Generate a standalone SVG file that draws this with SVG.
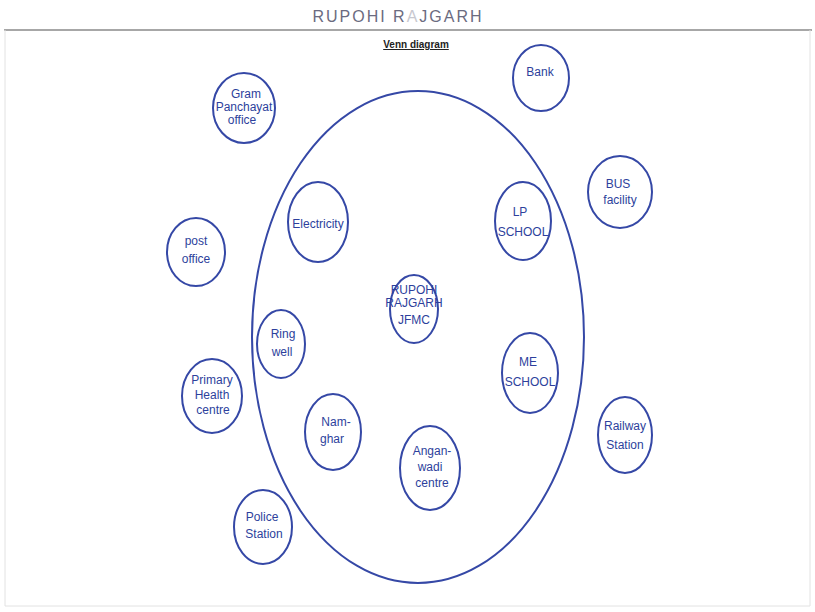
<svg xmlns="http://www.w3.org/2000/svg" width="815" height="612" viewBox="0 0 815 612">
<style>
.n{fill:none;stroke:#3548a6;stroke-width:2}
.t{font-family:"Liberation Sans",sans-serif;font-size:12px;fill:#2d3f9c;text-anchor:middle}
.big{fill:none;stroke:#3548a6;stroke-width:2}
</style>
<rect width="815" height="612" fill="#ffffff"/>
<line x1="4" y1="30" x2="812" y2="30" stroke="#8a8a8a" stroke-width="1.5"/>
<line x1="5" y1="30" x2="5" y2="606" stroke="#e2e2e2" stroke-width="1"/>
<line x1="810" y1="30" x2="810" y2="606" stroke="#e2e2e2" stroke-width="1"/>
<line x1="5" y1="606" x2="810" y2="606" stroke="#e2e2e2" stroke-width="1"/>
<text x="398" y="22" font-family="Liberation Sans,sans-serif" font-size="16" fill="#6b6b80" text-anchor="middle" letter-spacing="2">RUPOHI R<tspan fill="#c8c8d0">A</tspan>JGARH</text>
<text x="416" y="48" font-family="Liberation Sans,sans-serif" font-size="10" font-weight="bold" fill="#222" text-anchor="middle" text-decoration="underline">Venn diagram</text>
<g id="outer"><ellipse class="big" cx="418" cy="337" rx="166" ry="246"/></g>
<g id="connectors"></g>
<g id="gram-panchayat"><ellipse class="n" cx="244" cy="108" rx="31" ry="35"/><text class="t" x="244" y="98" font-size="11"><tspan x="246">Gram</tspan><tspan x="244" dy="13">Panchayat</tspan><tspan x="242" dy="13">office</tspan></text></g>
<g id="bank"><ellipse class="n" cx="541" cy="78" rx="28" ry="33"/><text class="t" x="540" y="76">Bank</text></g>
<g id="bus"><ellipse class="n" cx="620" cy="192" rx="32" ry="36"/><text class="t" x="618" y="188">BUS<tspan x="620" dy="16">facility</tspan></text></g>
<g id="post"><ellipse class="n" cx="196" cy="252" rx="29" ry="34"/><text class="t" x="196" y="245">post<tspan x="196" dy="18">office</tspan></text></g>
<g id="electricity"><ellipse class="n" cx="318" cy="222" rx="30" ry="40"/><text class="t" x="318" y="228" font-size="11">Electricity</text></g>
<g id="lp-school"><ellipse class="n" cx="523" cy="221" rx="28" ry="39"/><text class="t" x="520" y="216">LP<tspan x="523" dy="20">SCHOOL</tspan></text></g>
<g id="jfmc"><ellipse class="n" cx="414" cy="309" rx="24" ry="34"/><text class="t" x="414" y="294" font-size="9">RUPOHI</text><text class="t" x="414" y="307" font-size="9">RAJGARH</text><text class="t" x="414" y="324" font-size="10">JFMC</text></g>
<g id="ring-well"><ellipse class="n" cx="281" cy="344" rx="24" ry="34"/><text class="t" x="283" y="338">Ring<tspan x="282" dy="18">well</tspan></text></g>
<g id="phc"><ellipse class="n" cx="212" cy="396" rx="30" ry="37"/><text class="t" x="212" y="384" font-size="11">Primary<tspan x="212" dy="15">Health</tspan><tspan x="213" dy="15">centre</tspan></text></g>
<g id="me-school"><ellipse class="n" cx="530" cy="373" rx="28" ry="40"/><text class="t" x="528" y="366">ME<tspan x="530" dy="20">SCHOOL</tspan></text></g>
<g id="railway"><ellipse class="n" cx="625" cy="435" rx="27" ry="38"/><text class="t" x="625" y="430" font-size="11">Railway<tspan x="625" dy="19">Station</tspan></text></g>
<g id="namghar"><ellipse class="n" cx="333" cy="432" rx="28" ry="38"/><text class="t" x="336" y="426">Nam-<tspan x="332" dy="17">ghar</tspan></text></g>
<g id="anganwadi"><ellipse class="n" cx="430" cy="468" rx="30" ry="42"/><text class="t" x="432" y="455">Angan-<tspan x="430" dy="16">wadi</tspan><tspan x="432" dy="16">centre</tspan></text></g>
<g id="police"><ellipse class="n" cx="263" cy="527" rx="29" ry="37"/><text class="t" x="262" y="521">Police<tspan x="264" dy="17">Station</tspan></text></g>
</svg>
